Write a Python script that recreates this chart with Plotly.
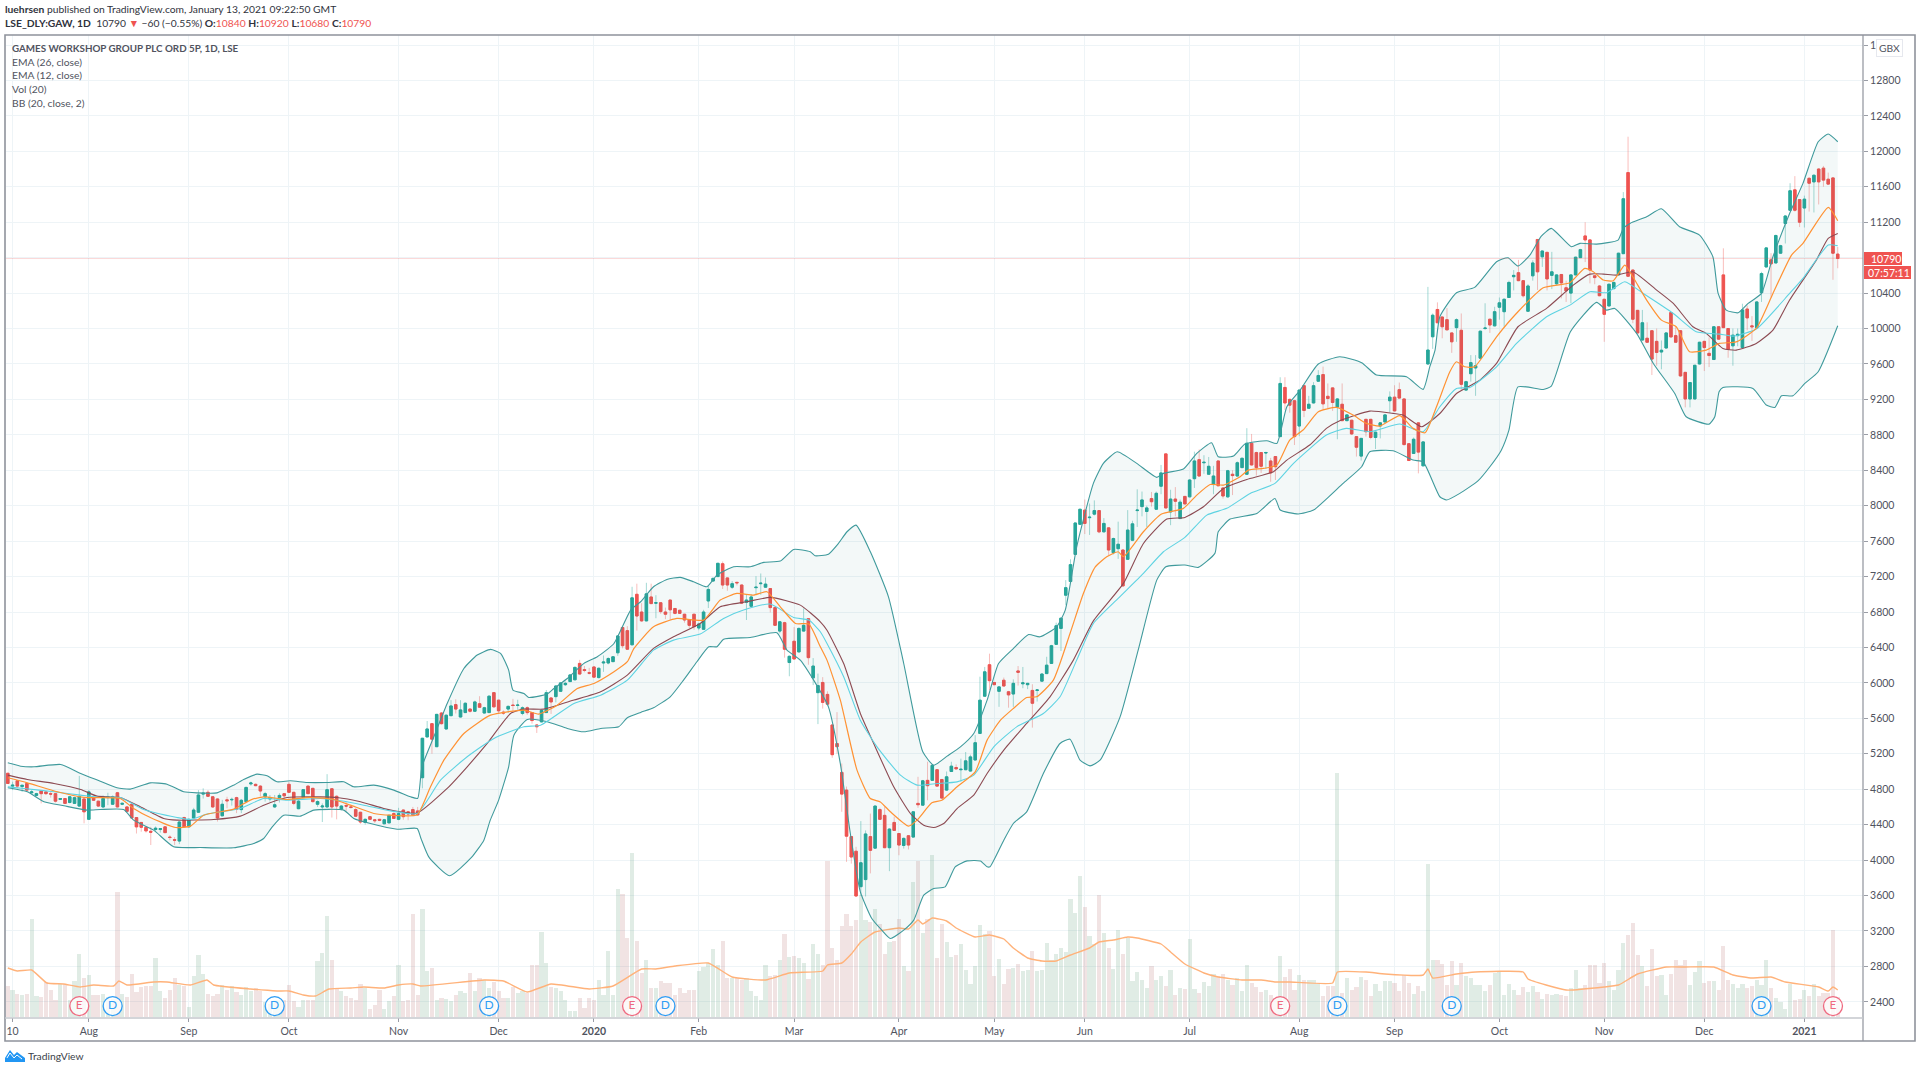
import plotly.graph_objects as go

# Daily bars for LSE:GAW, one list per calendar month: (open, high, low, close, volume)
jul_2019 = [(4980,4985,4860,4865,31000),(4835,4885,4790,4845,27000),(4895,4900,4810,4835,23000),(4830,4845,4770,4845,22000),
(4865,4870,4770,4790,23000),(4760,4790,4750,4770,98000),(4730,4760,4720,4750,21000),(4780,4785,4640,4750,20000),
(4770,4775,4735,4750,35000),(4750,4770,4705,4745,27000),(4750,4755,4650,4665,17000),(4685,4700,4680,4695,33000),
(4695,4700,4635,4640,33000),(4650,4720,4640,4715,17000),(4640,4715,4635,4705,36000),(4610,4950,4600,4720,63000),
(4690,4695,4415,4545,39000)]
aug_2019 = [(4460,4790,4455,4770,42000),(4705,4710,4670,4675,22000),(4665,4670,4600,4610,22000),(4600,4730,4590,4695,23000),
(4705,4760,4620,4715,20000),(4630,4730,4625,4715,18000),(4760,4770,4595,4600,125000),(4630,4650,4620,4640,23000),
(4600,4610,4540,4550,20000),(4630,4640,4470,4475,43000),(4480,4485,4300,4375,25000),(4425,4430,4320,4370,30000),
(4370,4375,4310,4330,31000),(4325,4375,4170,4315,31000),(4345,4380,4320,4360,59000),(4345,4360,4310,4355,26000),
(4375,4380,4305,4310,19000),(4260,4280,4225,4255,27000),(4230,4260,4170,4225,39000),(4215,4440,4180,4430,32000),
(4480,4490,4370,4375,31000)]
sep_2019 = [(4375,4470,4370,4460,10000),(4475,4590,4470,4565,41000),(4540,4790,4535,4735,62000),(4745,4810,4695,4755,43000),
(4765,4790,4715,4720,23000),(4715,4720,4590,4600,21000),(4690,4695,4435,4475,23000),(4500,4680,4495,4630,32000),
(4680,4715,4585,4670,27000),(4680,4705,4615,4685,31000),(4705,4715,4530,4575,25000),(4570,4690,4530,4675,22000),
(4660,4830,4655,4820,30000),(4860,4885,4840,4870,26000),(4855,4865,4835,4840,29000),(4835,4845,4720,4780,26000),
(4715,4770,4660,4750,15000),(4690,4735,4660,4705,13000),(4600,4735,4590,4625,17000),(4705,4755,4650,4730,17000),
(4750,4755,4695,4725,17000)]
oct_2019 = [(4855,4880,4760,4765,32000),(4765,4770,4620,4640,16000),(4580,4690,4575,4665,10000),(4705,4800,4700,4795,17000),
(4835,4840,4745,4750,17000),(4810,4815,4650,4660,17000),(4630,4675,4600,4660,56000),(4600,4640,4430,4610,64000),
(4600,4970,4595,4795,101000),(4805,4810,4480,4600,57000),(4720,4730,4460,4610,29000),(4575,4620,4560,4610,26000),
(4615,4655,4555,4610,21000),(4600,4620,4580,4595,19000),(4570,4590,4490,4495,17000),(4540,4545,4410,4430,33000),
(4425,4470,4400,4460,29000),(4490,4495,4455,4460,8000),(4455,4465,4420,4445,12000),(4460,4465,4440,4450,27000),
(4410,4465,4405,4455,8000),(4420,4515,4415,4505,16000),(4525,4540,4465,4470,21000)]
nov_2019 = [(4460,4590,4450,4525,52000),(4565,4570,4455,4490,16000),(4545,4555,4450,4520,17000),(4570,4600,4505,4510,103000),
(4555,4600,4500,4510,22000),(4930,5380,4810,5375,108000),(5390,5570,5385,5480,46000),(5540,5545,5200,5365,49000),
(5280,5650,5275,5645,17000),(5660,5670,5530,5540,19000),(5480,5645,5475,5635,18000),(5630,5805,5625,5740,16000),
(5755,5815,5655,5705,22000),(5615,5805,5610,5695,26000),(5665,5780,5660,5770,24000),(5705,5710,5665,5680,44000),
(5680,5800,5675,5785,26000),(5765,5850,5720,5725,39000),(5660,5730,5655,5720,37000),(5665,5860,5660,5850,29000),
(5890,5895,5720,5730,35000)]
dec_2019 = [(5805,5810,5660,5685,26000),(5670,5690,5640,5660,19000),(5705,5745,5660,5735,19000),(5750,5820,5680,5745,30000),
(5745,5810,5695,5750,24000),(5655,5735,5635,5720,26000),(5720,5735,5640,5665,24000),(5665,5670,5540,5575,52000),
(5525,5535,5435,5505,52000),(5560,5700,5555,5690,85000),(5665,5920,5660,5890,54000),(5830,5840,5650,5785,30000),
(5845,5975,5780,5965,29000),(5905,6010,5900,6000,26000),(5980,6015,5965,5995,17000),(6015,6100,6010,6090,6000),
(6035,6185,6030,6175,6000),(6220,6260,6095,6100,19000),(6150,6190,6120,6140,9000),(6115,6170,6095,6110,19000)]
jan_2020 = [(6180,6185,6060,6065,17000),(6060,6175,6050,6165,37000),(6225,6310,6125,6235,22000),(6225,6290,6210,6275,66000),
(6240,6300,6235,6295,22000),(6340,6540,6305,6530,128000),(6625,6630,6390,6420,123000),(6590,6640,6375,6380,79000),
(6430,7085,6425,6960,164000),(7000,7120,6590,6755,76000),(6800,6900,6690,6700,44000),(6700,7130,6695,7005,57000),
(6970,7120,6890,6895,29000),(6900,6990,6730,6905,29000),(6905,6910,6780,6805,36000),(6800,6850,6720,6775,34000),
(6935,6940,6710,6825,34000),(6840,6845,6775,6785,22000),(6820,6825,6780,6785,29000),(6775,6780,6680,6710,24000),
(6715,6720,6620,6650,27000),(6775,6780,6600,6635,27000)]
feb_2020 = [(6620,6680,6595,6665,46000),(6605,6825,6600,6800,50000),(6925,7100,6845,7055,54000),(7150,7190,7145,7180,68000),
(7200,7355,7195,7350,52000),(7345,7370,7060,7105,76000),(7185,7190,7040,7105,39000),(7080,7150,7060,7120,39000),
(7135,7140,7100,7130,39000),(7105,7110,6890,6900,37000),(6910,7000,6710,6935,39000),(6865,7000,6860,6970,26000),
(7075,7205,6990,7080,21000),(7120,7235,6995,7125,17000),(7080,7190,7075,7115,52000),(7065,7070,6795,6850,41000),
(6850,6855,6645,6650,42000),(6585,6695,6560,6690,57000),(6680,6690,6285,6380,83000),(6230,6310,6075,6300,60000)]
mar_2020 = [(6470,6630,6265,6270,61000),(6350,6625,6345,6615,59000),(6585,6840,6580,6650,54000),(6725,6730,6205,6285,38000),
(6057,6280,5975,6190,73000),(5890,6105,5535,5970,63000),(6005,6065,5710,5780,52000),(5870,5905,5750,5760,156000),
(5525,5530,5155,5190,69000),(5315,5670,5200,5280,57000),(4990,5090,4545,4745,91000),(4790,4830,3980,4270,103000),
(4265,4270,3960,4035,91000),(4100,4150,3585,3595,97000),(3700,4440,3595,3970,122000),(3780,4335,3590,4295,97000),
(4265,4525,3850,4110,95000),(4135,4615,4130,4610,108000),(4570,4590,4455,4460,93000),(4505,4600,4135,4140,63000),
(4140,4360,3875,4350,75000),(4425,4490,4330,4335,76000)]
apr_2020 = [(4300,4305,4055,4170,98000),(4165,4255,4130,4245,51000),(4275,4280,4120,4170,46000),(4260,4550,4255,4545,135000),
(4640,4940,4590,4625,156000),(4620,4905,4615,4895,84000),(4900,5110,4675,4840,98000),(4900,5080,4895,5070,162000),
(5020,5025,4830,4835,59000),(4910,4915,4695,4700,93000),(4790,5000,4780,4940,75000),(5000,5110,4995,5060,60000),
(5045,5080,5020,5030,62000),(5020,5145,4885,5025,73000),(5020,5220,5015,5120,47000),(5005,5190,5000,5165,33000),
(5130,5410,5125,5325,51000),(5430,6070,5425,5805,92000),(5850,6180,5845,6125,83000),(6205,6330,5920,6025,86000)]
may_2020 = [(6005,6010,5975,5980,41000),(5905,5965,5730,5955,58000),(6030,6060,5960,5965,33000),(5900,5910,5720,5865,48000),
(5875,6040,5730,5995,49000),(6135,6190,5970,6120,53000),(5990,6180,5940,6000,46000),(5980,6000,5930,5995,47000),
(5915,5985,5495,5770,66000),(5915,5930,5790,5920,46000),(6020,6110,6015,6100,47000),(6105,6295,6100,6200,74000),
(6220,6430,6215,6420,57000),(6435,6680,6430,6645,63000),(6615,6740,6360,6730,69000),(6990,7160,6880,7075,65000),
(7145,7395,7140,7335,118000),(7450,7810,7445,7805,104000),(7790,7965,7785,7960,141000)]
jun_2020 = [(7950,8070,7680,7800,110000),(7865,8025,7670,7870,81000),(7905,8060,7890,7945,73000),(7945,7950,7690,7705,122000),
(7705,7860,7700,7800,84000),(7750,7755,7440,7500,69000),(7470,7640,7450,7630,48000),(7515,7820,7400,7565,87000),
(7500,7505,7085,7095,63000),(7395,7950,7390,7725,79000),(7610,7830,7600,7795,36000),(7945,8185,7760,7950,45000),
(7990,8160,7880,8065,37000),(7935,8000,7760,7975,29000),(8080,8155,7990,8045,51000),(7960,8160,7955,8140,37000),
(8220,8460,8130,8370,41000),(8585,8590,7970,7975,31000),(7930,8180,7780,8075,47000),(8075,8210,7880,8050,22000),
(7855,8070,7850,8040,29000),(8105,8110,8015,8020,28000)]
jul_2020 = [(8100,8300,8095,8290,78000),(8305,8610,8200,8505,28000),(8520,8635,8330,8335,24000),(8485,8570,8360,8490,35000),
(8355,8550,8350,8445,31000),(8240,8450,8130,8335,43000),(8505,8510,8220,8225,41000),(8200,8205,8080,8110,43000),
(8100,8405,8090,8395,37000),(8355,8400,8120,8340,32000),(8335,8500,8330,8485,39000),(8430,8545,8425,8535,26000),
(8355,8875,8350,8705,52000),(8705,8810,8455,8460,34000),(8600,8610,8340,8430,30000),(8600,8605,8370,8445,25000),
(8595,8610,8415,8600,27000),(8505,8540,8270,8370,22000),(8555,8560,8290,8440,19000),(8780,9450,8775,9380,61000),
(9335,9450,9080,9160,40000),(9200,9210,9050,9135,48000),(9185,9195,8685,8780,27000)]
aug_2020 = [(8900,9310,8785,9305,42000),(9355,9360,9000,9075,37000),(9100,9240,9095,9145,37000),(9160,9395,9155,9355,37000),
(9405,9530,9400,9470,33000),(9480,9570,9080,9150,21000),(9235,9380,9100,9210,31000),(9330,9335,9070,9165,31000),
(9115,9215,8750,9205,244000),(9145,9380,8955,8960,24000),(8960,9035,8955,9025,39000),(8965,8970,8800,8810,27000),
(8780,8785,8555,8660,30000),(8560,8765,8510,8760,40000),(8975,8980,8780,8835,37000),(8975,8980,8750,8770,21000),
(8770,8835,8640,8830,33000),(8900,8945,8760,8935,26000),(8945,9035,8940,9025,36000),(9185,9290,9050,9225,36000)]
sep_2020 = [(9225,9360,9065,9070,34000),(9310,9390,9210,9215,26000),(9205,9210,8680,8690,42000),(8700,8705,8505,8510,34000),
(8590,8770,8585,8750,23000),(8935,8940,8365,8605,31000),(8450,8730,8445,8720,26000),(9600,10470,9590,9757,153000),
(9907,10170,9770,10150,57000),(10215,10295,10060,10065,57000),(10130,10135,9890,10020,53000),(10100,10230,9980,9985,32000),
(9950,9955,9725,9850,56000),(10010,10115,9850,10100,32000),(9980,10170,9300,9370,54000),(9305,9410,9300,9400,41000),
(9490,9700,9400,9615,39000),(9555,9700,9240,9580,32000),(9665,9975,9660,9970,32000),(10000,10285,9985,10005,26000),
(10105,10110,9950,10040,32000),(10030,10245,10025,10190,44000)]
oct_2020 = [(10240,10350,10100,10290,45000),(10190,10340,10020,10330,22000),(10350,10540,10345,10520,33000),(10585,10660,10430,10600,27000),
(10630,10775,10535,10540,22000),(10540,10545,10350,10370,30000),(10195,10500,10190,10480,25000),(10595,10770,10540,10740,31000),
(11005,11010,10435,10640,25000),(10810,10880,10695,10875,18000),(10860,10865,10430,10560,23000),(10600,10865,10445,10640,22000),
(10505,10610,10490,10605,23000),(10610,10615,10340,10515,22000),(10460,10540,10300,10425,21000),(10400,10610,10285,10605,29000),
(10605,10810,10600,10805,47000),(10800,10900,10795,10890,29000),(11045,11200,10750,11000,32000),(11000,11005,10510,10660,52000),
(10595,10600,10500,10575,52000),(10480,10490,10365,10370,34000)]
nov_2020 = [(10330,10335,9850,10160,54000),(10255,10505,10250,10500,36000),(10450,10530,10445,10520,27000),(10605,10855,10600,10850,47000),
(10845,11540,10840,11465,74000),(11760,12165,10585,10590,82000),(10660,10665,10060,10105,94000),(10205,10210,9945,9950,62000),
(9870,10210,9865,10065,51000),(9890,10070,9840,9845,31000),(9975,9980,9475,9655,68000),(9855,10000,9580,9730,41000),
(9735,9865,9540,9755,42000),(9780,9960,9775,9950,22000),(10180,10185,9900,9905,43000),(9920,10020,9840,9845,57000),
(9975,9980,9455,9465,52000),(9505,9510,9110,9205,57000),(9205,9395,9110,9390,32000),(9205,9590,9200,9585,45000),
(9600,9850,9595,9845,56000)]
dec_2020 = [(9855,9860,9520,9785,34000),(9720,9900,9565,9695,36000),(9650,10025,9645,10020,36000),(10020,10025,9875,9880,27000),
(10605,10905,10005,10010,71000),(10000,10005,9670,9765,37000),(9805,10000,9580,9925,33000),(9920,10000,9800,9935,29000),
(9785,10280,9780,10210,33000),(10220,10260,9980,10120,29000),(10030,10140,9860,10020,31000),(10010,10310,10005,10300,37000),
(10405,10640,10300,10620,32000),(10695,10920,10690,10910,57000),(10775,10850,10350,10730,29000),(10740,11060,10735,11050,19000),
(10850,10945,10845,10935,15000),(11185,11280,10960,11270,8000),(11335,11640,11330,11555,33000),(11565,11720,11320,11335,17000),
(11455,11460,11145,11200,18000)]
jan_2021 = [(11360,11500,11140,11460,27000),(11695,11710,11320,11640,21000),(11655,11740,11310,11730,33000),(11800,11810,11400,11655,21000),
(11810,11835,11600,11675,24000),(11685,11760,11620,11630,24000),(11700,11705,10550,10850,87000),(10840,10920,10680,10790,20000)]

# Bollinger bands, 20-day average and EMAs: (bar number, price)
bb_upper = [(-1,5098),(1.7,5060),(4.5,5053),(10.1,5079),(14.3,4978),(18.4,4891),(21.9,4816),(24.7,4801),(28.9,4872),(32.4,4857),(35.9,4771),(38.7,4759),(42.9,4759),(46.4,4846),(48.5,4910),(51.3,4970),(53.4,4951),(55.5,4884),(58.3,4895),(61.8,4876),(66,4876),(69.5,4884),(71.6,4827),(75.8,4846),(80,4790),(83.5,4714),(85,4696),(85.9,5053),(88.4,5392),(91.2,5768),(94.7,6163),(97.5,6314),(100.3,6378),(102.4,6333),(104.1,6144),(105,5919),(107.3,5881),(108.3,5836),(112.2,5874),(113.6,5937),(116.4,6050),(119.9,6220),(122.7,6295),(126.2,6445),(129.7,6822),(131.8,6916),(134.5,7085),(137.3,7168),(140.1,7191),(142.9,7142),(145.7,7085),(147.8,7217),(151.3,7311),(154.8,7311),(157.6,7360),(161.1,7375),(163.9,7506),(167.4,7480),(168.4,7435),(171.2,7453),(173.3,7574),(175.1,7706),(177,7781),(180,7480),(183.8,6972),(187,6219),(191,5222),(193.3,5071),(196.1,5173),(198.9,5278),(201.7,5429),(204.5,5805),(206.9,6219),(210,6388),(213.2,6546),(215.6,6520),(219.1,6633),(220.9,6821),(223.3,7536),(226.8,8252),(228.9,8478),(231.8,8609),(235.9,8478),(240.1,8320),(241.5,8365),(245.7,8414),(248.5,8590),(251.6,8711),(253,8553),(256.2,8560),(258.6,8696),(263.2,8733),(265.3,8703),(267.4,9117),(270.2,9305),(274,9599),(278.5,9682),(283.1,9614),(286.2,9475),(292.5,9456),(296,9313),(297.4,9569),(298.5,9757),(299.5,10133),(303,10404),(306.8,10464),(311.4,10754),(313.8,10799),(315.9,10705),(318.4,10829),(320.8,11043),(322.9,11130),(327.1,10923),(328.9,10961),(332.4,10953),(336.9,10998),(338,11130),(339.4,11186),(342.9,11262),(346,11352),(349.8,11149),(354,11055),(356.8,10810),(357.9,10396),(359.6,10208),(362.1,10178),(364.2,10283),(367,10396),(369.4,10810),(372.9,11299),(375.7,11638),(378.9,12108),(381,12195),(383,12108)]
bb_lower = [(-1,4816),(3.1,4771),(6.6,4658),(10.8,4613),(15.6,4564),(18.4,4571),(23.3,4571),(25.4,4451),(29.6,4338),(33.8,4150),(39.4,4142),(46.4,4139),(50.6,4187),(52.7,4244),(54.5,4376),(56.9,4507),(60.4,4496),(63.2,4564),(69.5,4564),(71.6,4470),(75.1,4413),(80.7,4349),(84.9,4357),(85.7,4244),(87.4,4030),(91.7,3824),(96.3,4030),(98.9,4225),(100.2,4445),(102,4677),(104.1,5053),(105.2,5410),(108,5588),(112.2,5561),(116.4,5486),(119.9,5448),(123.4,5486),(127.2,5505),(129,5606),(131.8,5667),(134.5,5719),(138,5843),(140.8,6032),(143.6,6239),(146.1,6408),(147.8,6408),(149.2,6494),(154.8,6513),(160.4,6566),(162.5,6370),(165.3,6257),(168.1,6031),(171.2,5730),(173.7,5090),(175.8,4300),(177.9,3641),(180.3,3340),(182.4,3209),(184.2,3115),(187,3209),(189.1,3322),(191.2,3604),(193.3,3679),(195.7,3698),(197.8,3924),(200.3,3991),(203.1,3991),(204.5,3924),(205.1,3924),(208,4225),(210,4413),(212.8,4545),(216.3,4977),(219.8,5316),(221.9,5365),(224,5128),(226.1,5064),(228.2,5128),(232.4,5617),(236.2,6370),(240.1,7160),(242,7311),(246,7330),(248.8,7304),(252.3,7462),(253,7706),(255.5,7849),(261.1,7913),(264.9,8082),(266,7951),(269.8,7906),(273,7951),(279.2,8252),(283.1,8440),(284.8,8609),(289.7,8621),(293.9,8515),(296,8496),(299.5,8101),(300.9,8064),(303.7,8139),(307.5,8280),(310,8440),(312.4,8627),(314,8853),(315.9,9342),(321.2,9312),(322.9,9350),(326.9,9963),(332.4,10295),(334.5,10208),(336.2,10227),(340.8,9945),(344.3,9606),(348.8,9267),(351.2,9004),(356,8921),(357.2,9004),(358.1,9286),(358.9,9335),(365.2,9324),(368,9136),(369.8,9109),(371.2,9241),(373.6,9241),(376.1,9380),(378.9,9512),(383,10031)]
bb_basis = [(-1,4959),(3.1,4910),(8.7,4865),(14.3,4797),(17.7,4722),(22.6,4707),(26.8,4601),(31.7,4470),(34.5,4451),(42.2,4458),(47.8,4496),(52.7,4620),(57.6,4707),(64.6,4714),(68.1,4707),(73,4658),(77.9,4583),(81.4,4545),(84.9,4530),(91.2,4809),(95.4,5053),(99.6,5317),(104.5,5655),(107.3,5704),(111.5,5704),(117.8,5806),(123.4,5900),(129,6088),(134.5,6389),(138.7,6521),(144.3,6671),(148.5,6859),(154.1,6916),(159,6965),(165.3,6878),(169.5,6690),(170.9,6595),(174.4,6219),(177.9,5655),(180.7,5316),(184.9,4827),(188.4,4526),(191.2,4394),(193.3,4368),(195.4,4413),(198.2,4582),(201.7,4733),(204.5,4977),(208,5241),(212.8,5542),(217.7,5843),(222.6,6257),(226.8,6700),(233.1,7123),(237.3,7574),(242.2,7849),(246,7868),(249.9,7988),(254.1,8195),(259,8297),(264.6,8384),(267.4,8515),(272.2,8685),(275.7,8873),(278.5,8959),(284.8,9068),(289.7,9042),(291.8,9023),(295.7,8892),(299.5,9041),(303,9267),(307.9,9418),(311.4,9606),(315.9,10020),(321.9,10227),(327.5,10490),(331,10614),(333.8,10614),(336.6,10603),(340,10641),(345,10434),(348.5,10283),(352.6,10020),(355.4,9945),(358.9,9775),(361.7,9756),(365.9,9832),(369.4,9982),(372.9,10321),(378.5,10772),(381,11017),(383,11073)]
ema_26 = [(-1,4827),(2.4,4808),(8.7,4771),(14.3,4733),(18.4,4707),(22.6,4707),(27.5,4571),(34.5,4481),(37.3,4458),(40.8,4519),(47.8,4583),(52.7,4695),(57.6,4677),(64.6,4695),(68.8,4669),(73.7,4620),(79.3,4556),(84.9,4526),(89.8,4903),(95.4,5166),(101,5373),(107.3,5505),(110.8,5523),(117.8,5768),(123.4,5862),(129,6031),(134.5,6370),(138.7,6483),(144.3,6551),(149.2,6728),(153.4,6822),(159,6890),(163.9,6739),(167.1,6709),(169.5,6577),(170.9,6445),(174.4,6069),(177.9,5579),(181.4,5278),(186.3,4959),(189.8,4846),(194,4864),(198.2,4883),(201.7,4959),(205.9,5278),(210.7,5504),(216.3,5655),(219.8,5843),(223.3,6257),(226.8,6671),(232,6954),(237.3,7236),(241.5,7480),(246,7642),(250.6,7894),(254.8,7970),(259.7,8139),(264.9,8252),(268.8,8478),(275.7,8797),(279.9,8873),(284.8,8835),(291.1,8922),(296,8835),(299.5,9117),(303,9324),(305.8,9335),(311.4,9568),(315.6,9832),(321.9,10133),(326.8,10264),(331,10415),(334.5,10404),(338.3,10528),(342.2,10396),(348.5,10170),(353.3,9963),(358.2,9937),(361,9914),(365.9,9994),(372.9,10396),(375.7,10565),(381,10942),(383,10934)]
ema_12 = [(-1,4929),(3.1,4872),(9.4,4771),(15,4707),(22.6,4695),(25.4,4583),(28.9,4481),(34.2,4368),(37.3,4383),(40.1,4507),(46.4,4575),(49.9,4677),(52.7,4714),(57.6,4684),(62.5,4707),(67.4,4684),(70.9,4620),(75.8,4526),(79.3,4507),(84.9,4512),(87.7,4827),(90.5,5128),(94.7,5429),(100.3,5636),(107.3,5693),(110.4,5648),(114.3,5749),(118.5,5937),(122,5994),(126.2,6126),(129,6239),(130.4,6389),(134.5,6634),(139.4,6728),(145,6709),(148.5,6935),(152,7010),(155.5,6991),(158.3,7029),(161.1,6859),(164.3,6671),(167.1,6664),(169.5,6408),(170.9,6257),(173.7,5805),(177.2,5015),(180,4695),(182.1,4657),(184.2,4545),(188,4383),(189.8,4451),(192.9,4646),(195,4676),(198.2,4827),(202,4996),(204.5,5354),(207.3,5579),(210,5711),(212.8,5835),(214.9,5843),(218.4,6031),(221.9,6558),(224.7,7009),(227.2,7310),(229.6,7423),(232,7480),(233.1,7424),(237.3,7706),(241.1,7906),(245.7,7970),(248.5,8120),(251.3,8240),(254.1,8233),(257.6,8327),(259.3,8402),(262.5,8421),(265.3,8459),(268,8741),(270.8,8854),(274,9061),(277.8,9110),(281.3,9023),(284.1,8929),(286.9,8899),(291.1,9016),(293.9,8873),(296.4,8824),(298.8,9117),(301.6,9512),(303,9625),(304.7,9568),(306.8,9568),(311.4,9907),(315.9,10189),(321.2,10460),(326.8,10517),(329.9,10678),(331.7,10641),(333.8,10547),(335.9,10539),(338.3,10716),(340,10584),(342.9,10321),(346,10095),(349.1,10020),(351.9,9738),(355.4,9756),(358.2,9832),(361.7,9850),(365.9,10001),(369.4,10396),(373.3,10829),(375.7,10961),(381,11367),(383,11216)]
# 20-day average of volume: (bar number, shares)
vol_ma = [(-1,49000),(1,46000),(4,47000),(7.2,34000),(10.7,33000),(14.2,30000),(17,32000),(21.2,31000),(22.3,36000),(24,32000),(29.6,35000),(32.4,35000),(37.3,32000),(40.8,37000),(42.2,32000),(49.9,28000),(55.5,26000),(58,26000),(61,22000),(63.6,21000),(66.4,28000),(71,29000),(73.7,30000),(77.9,29000),(81,32000),(84,33000),(85.6,31000),(99,37000),(103,36000),(108,25000),(113,33000),(121,28000),(126,31000),(132,48000),(135,48000),(139,51000),(146,54000),(151,40000),(158,37000),(163,44000),(170,46000),(171,52000),(174,54000),(176,63000),(178,75000),(181,85000),(186,89000),(188,88000),(190,97000),(191,93000),(193,99000),(196,96000),(198,89000),(202,80000),(205,82000),(208,78000),(210,69000),(213,59000),(216,56000),(219,56000),(222,62000),(226,69000),(228,75000),(231,77000),(234,80000),(236,79000),(241,73000),(243,65000),(246,53000),(250,44000),(253,40000),(258,37000),(262,37000),(265,35000),(268,35000),(277,34000),(278,45000),(284,45000),(288,43000),(296,42000),(297,48000),(298,39000),(303,43000),(307,45000),(317,45000),(318,38000),(326,27000),(334,30000),(337,32000),(341,43000),(347,50000),(351,50000),(357,50000),(361,42000),(365,39000),(369,40000),(372,35000),(379,30000),(381,26000),(382,30000),(383,27000)]

# Calendar axis: bar number of the first session of each month
month_bars = [0,16,37,58,81,102,122,144,164,186,206,225,247,270,290,312,334,355,376]
month_labels = ["10","Aug","Sep","Oct","Nov","Dec","<b>2020</b>","Feb","Mar","Apr","May","Jun","Jul","Aug","Sep","Oct","Nov","Dec","<b>2021</b>"]
price_ticks = list(range(2400, 13600, 400))
earnings_bars = [14,130,266,382]
dividend_bars = [21,55,100,137,278,302,367]
last_close = 10790

bars = (jul_2019+aug_2019+sep_2019+oct_2019+nov_2019+dec_2019+jan_2020+feb_2020+mar_2020+apr_2020+may_2020+jun_2020
        +jul_2020+aug_2020+sep_2020+oct_2020+nov_2020+dec_2020+jan_2021)
bar_no = list(range(-1, len(bars)-1))
opens, highs, lows, closes, volumes = map(list, zip(*bars))

W, H = 1920, 1070
ML, MR, MT, MB = 6, 57, 35, 53
PLOT_W, PLOT_H = W-ML-MR, H-MT-MB
def px(x): return (x-ML)/PLOT_W
def py(y): return 1-(y-MT)/PLOT_H

FONT = "Lato"
GREEN, RED = "#26a69a", "#ef5350"
TEXT = "#50535e"
GRID = "#eef4f7"
EDGE = "#8f939c"

fig = go.Figure()

# Volume columns and their average share the hidden left axis
fig.add_bar(x=bar_no, y=volumes, width=0.88, yaxis="y", xaxis="x",
            marker=dict(line_width=0, color=["rgba(107,165,131,0.21)" if c >= o else "rgba(160,70,70,0.15)" for o, c in zip(opens, closes)]),
            hoverinfo="skip")
fig.add_scatter(x=[p[0] for p in vol_ma], y=[p[1] for p in vol_ma], mode="lines", yaxis="y",
                line=dict(color="#ffb27a", width=1.4, shape="spline", smoothing=0.4), hoverinfo="skip")

# Band fill sits behind the candles
fig.add_scatter(x=[p[0] for p in bb_upper], y=[p[1] for p in bb_upper], mode="lines", yaxis="y2",
                line=dict(width=0, shape="spline", smoothing=0.5), hoverinfo="skip")
fig.add_scatter(x=[p[0] for p in bb_lower], y=[p[1] for p in bb_lower], mode="lines", yaxis="y2",
                line=dict(width=0, shape="spline", smoothing=0.5), fill="tonexty", fillcolor="rgba(38,130,130,0.055)", hoverinfo="skip")

# Pale wicks first, then solid bodies
fig.add_candlestick(x=bar_no, open=opens, high=highs, low=lows, close=closes, yaxis="y2",
                    increasing=dict(line=dict(color="rgba(38,166,154,0.42)", width=1), fillcolor="rgba(0,0,0,0)"),
                    decreasing=dict(line=dict(color="rgba(239,83,80,0.38)", width=1), fillcolor="rgba(0,0,0,0)"),
                    hoverinfo="skip")
fig.add_candlestick(x=bar_no, open=opens, close=closes,
                    high=[max(o, c) for o, c in zip(opens, closes)], low=[min(o, c) for o, c in zip(opens, closes)], yaxis="y2",
                    increasing=dict(line=dict(color=GREEN, width=1), fillcolor=GREEN),
                    decreasing=dict(line=dict(color=RED, width=1), fillcolor=RED),
                    hoverinfo="skip")

for series, colour, lw in [(bb_upper, "#3f9a9c", 1.1), (bb_lower, "#3f9a9c", 1.1), (bb_basis, "#8c4a52", 1.1),
                           (ema_26, "#5ed3e2", 1.1), (ema_12, "#ff9233", 1.2)]:
    fig.add_scatter(x=[p[0] for p in series], y=[p[1] for p in series], mode="lines", yaxis="y2",
                    line=dict(color=colour, width=lw, shape="spline", smoothing=0.5), hoverinfo="skip")

# Earnings and dividend flags along the foot of the chart
for positions, letter, colour in [(earnings_bars, "E", "#ef6a80"), (dividend_bars, "D", "#2f9df4")]:
    fig.add_scatter(x=positions, y=[2352]*len(positions), mode="markers+text", yaxis="y2", text=[letter]*len(positions),
                    textposition="middle center", textfont=dict(family=FONT, size=12, color=colour),
                    marker=dict(size=19, color="rgba(255,255,255,0.75)", line=dict(color=colour, width=1.3)), hoverinfo="skip")

shapes = [
    dict(type="line", xref="x", yref="y2", x0=-1.38, x1=388.3, y0=last_close, y1=last_close, line=dict(color="rgba(239,83,80,0.22)", width=1)),
    # outer frame and axis rules
    dict(type="rect", xref="paper", yref="paper", x0=px(5), x1=px(1915), y0=py(1041), y1=py(35), line=dict(color=EDGE, width=1.6)),
    dict(type="line", xref="paper", yref="paper", x0=px(1863), x1=px(1863), y0=py(1041), y1=py(35), line=dict(color=EDGE, width=1.2)),
    dict(type="line", xref="paper", yref="paper", x0=px(5), x1=px(1863), y0=py(1018), y1=py(1018), line=dict(color="#c4c7cc", width=1.6)),
    # last price and countdown tags
    dict(type="rect", xref="paper", yref="paper", x0=px(1864), x1=px(1902), y0=py(265), y1=py(252), fillcolor=RED, line_width=0),
    dict(type="rect", xref="paper", yref="paper", x0=px(1864), x1=px(1911), y0=py(279), y1=py(266), fillcolor=RED, line_width=0),
]
# Publisher logo at bottom left
logo = [(5,1062),(5,1058),(10,1050),(14,1055),(17,1052),(25,1058),(25,1062)]
shapes.append(dict(type="path", xref="paper", yref="paper", fillcolor="#2196f3", line_width=0,
                   path="M "+" L ".join(f"{px(x):.5f},{py(y):.5f}" for x, y in logo)+" Z"))
notch = [(7,1058),(10,1053),(14,1058),(17,1055),(22,1059)]
shapes.append(dict(type="path", xref="paper", yref="paper", line=dict(color="white", width=1),
                   path="M "+" L ".join(f"{px(x):.5f},{py(y):.5f}" for x, y in notch)))

def note(x, y, text, size=10.3, color=TEXT, anchor="left", **kw):
    return dict(xref="paper", yref="paper", x=px(x), y=py(y), text=text, showarrow=False, xanchor=anchor, yanchor="middle",
                font=dict(family=FONT, size=size, color=color), **kw)

red = lambda s: f'<span style="color:{RED}">{s}</span>'
annotations = [
    note(3, 9, "<b>luehrsen</b> published on TradingView.com, January 13, 2021 09:22:50 GMT", color="#2f323c"),
    note(3, 23, f"<b>LSE_DLY:GAW, 1D</b>  10790 {red('▼')} −60 (−0.55%) <b>O:</b>{red('10840')} <b>H:</b>{red('10920')} <b>L:</b>{red('10680')} <b>C:</b>{red('10790')}", color="#2f323c"),
    note(10, 48, "<b>GAMES WORKSHOP GROUP PLC ORD 5P, 1D, LSE</b>", size=9.8),
    note(10, 62, "EMA (26, close)"),
    note(10, 75, "EMA (12, close)"),
    note(10, 89, "Vol (20)"),
    note(10, 103, "BB (20, close, 2)"),
    note(1869, 258.5, "10790", color="white", size=10.5),
    note(1866, 272.5, "07:57:11", color="white", size=10.5),
    note(1889.5, 48, "GBX", anchor="center", bgcolor="white", bordercolor="#e6e8ee", borderwidth=1, borderpad=2),
    note(26, 1056, "TradingView", color="#3b3f4a"),
]

fig.update_layout(
    width=W, height=H, margin=dict(l=ML, r=MR, t=MT, b=MB), showlegend=False, plot_bgcolor="white", paper_bgcolor="white",
    boxgap=0.25, bargap=0, barmode="overlay", shapes=shapes, annotations=annotations,
    xaxis=dict(range=[-1.38, 388.3], tickmode="array", tickvals=month_bars, ticktext=month_labels, showgrid=True, gridcolor=GRID,
               zeroline=False, ticks="outside", ticklen=4, tickcolor="#9a9da6", tickfont=dict(family=FONT, size=10.5, color=TEXT),
               rangeslider=dict(visible=False), showline=False),
    yaxis=dict(range=[0, PLOT_H*1000], visible=False, fixedrange=True),
    yaxis2=dict(overlaying="y", side="right", range=[2229, 13313], tickmode="array", tickvals=price_ticks,
                ticktext=[str(t) for t in price_ticks], showgrid=True, gridcolor=GRID, zeroline=False, ticks="outside", ticklen=4,
                tickcolor="#9a9da6", tickfont=dict(family=FONT, size=10.5, color=TEXT), showline=False),
)
fig.write_html("out.html", config={"displayModeBar": False})
